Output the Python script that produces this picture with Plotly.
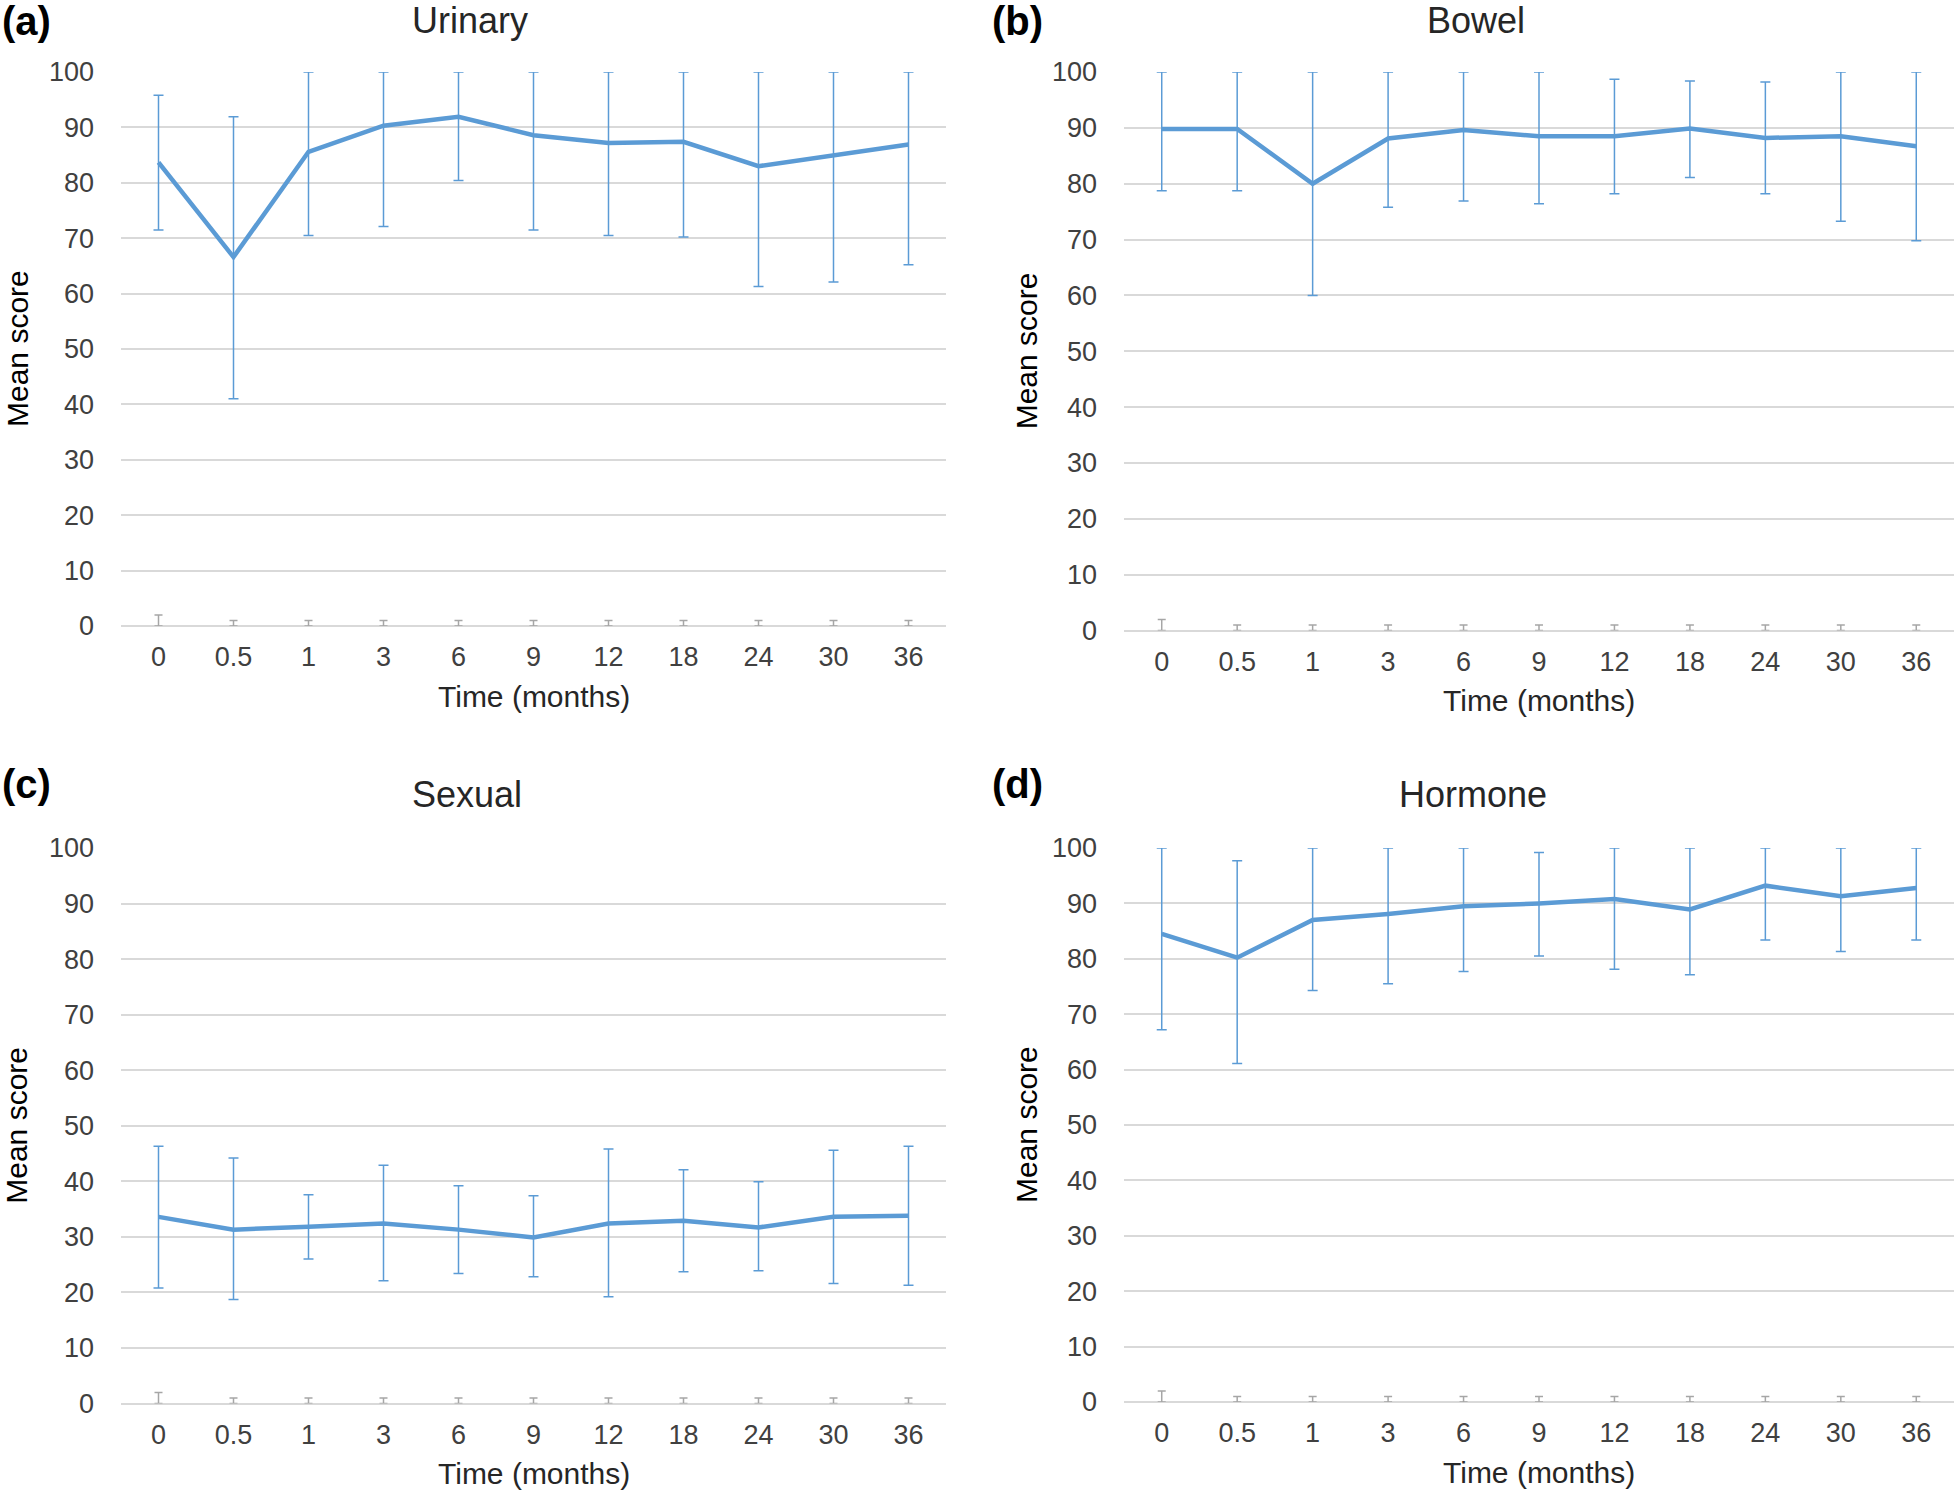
import plotly.graph_objects as go

W, H = 1958, 1492

months = ["0", "0.5", "1", "3", "6", "9", "12", "18", "24", "30", "36"]

urinary_mean = [83.7, 66.6, 85.6, 90.3, 91.9, 88.6, 87.2, 87.4, 83.0, 84.9, 86.9]
urinary_upper = [95.8, 91.9, 100, 100, 100, 100, 100, 100, 100, 100, 100]
urinary_lower = [71.5, 41.0, 70.5, 72.1, 80.4, 71.5, 70.5, 70.2, 61.3, 62.1, 65.2]

bowel_mean = [89.8, 89.8, 80.0, 88.1, 89.6, 88.5, 88.5, 89.9, 88.2, 88.5, 86.7]
bowel_upper = [100, 100, 100, 100, 100, 100, 98.7, 98.4, 98.2, 100, 100]
bowel_lower = [78.75, 78.75, 60.0, 75.8, 76.9, 76.4, 78.2, 81.1, 78.2, 73.3, 69.8]

sexual_mean = [33.6, 31.3, 31.8, 32.4, 31.3, 29.9, 32.4, 32.9, 31.7, 33.6, 33.8]
sexual_upper = [46.3, 44.2, 37.6, 42.9, 39.2, 37.4, 45.8, 42.1, 39.9, 45.6, 46.3]
sexual_lower = [20.8, 18.7, 26.0, 22.1, 23.4, 22.8, 19.2, 23.7, 23.9, 21.6, 21.3]

hormone_mean = [84.5, 80.2, 87.0, 88.1, 89.5, 90.0, 90.8, 88.9, 93.2, 91.3, 92.8]
hormone_upper = [100, 97.7, 100, 100, 100, 99.2, 100, 100, 100, 100, 100]
hormone_lower = [67.2, 61.1, 74.3, 75.5, 77.7, 80.5, 78.1, 77.1, 83.4, 81.3, 83.4]

# stray grey error-bar stubs at zero (second, hidden series)
zero_series = [0] * 11
zero_err = [2, 1, 1, 1, 1, 1, 1, 1, 1, 1, 1]

y_ticks = [0, 10, 20, 30, 40, 50, 60, 70, 80, 90, 100]

panels = [
    ("(a)", "Urinary", urinary_mean, urinary_upper, urinary_lower),
    ("(b)", "Bowel", bowel_mean, bowel_upper, bowel_lower),
    ("(c)", "Sexual", sexual_mean, sexual_upper, sexual_lower),
    ("(d)", "Hormone", hormone_mean, hormone_upper, hormone_lower),
]

# layout in pixels: (x0, x1, y_top(100), y_bottom(0))
boxes = [
    (121, 946, 72, 626),
    (1124, 1954, 72, 630.6),
    (121, 946, 848, 1403.5),
    (1124, 1954, 848, 1402),
]
title_pos = [(470, 21), (1476, 21), (467, 794), (1473, 794)]
label_pos = [(0, 21), (990, 21), (0, 784), (990, 784)]

BLUE = "#5B9BD5"
GRID = "#D9D9D9"
FONT = "Liberation Sans, Arial, sans-serif"

fig = go.Figure()
annotations = []
layout_axes = {}

for i, (lab, ttl, mean, up, lo) in enumerate(panels):
    n = i + 1
    xa = "x" if n == 1 else f"x{n}"
    ya = "y" if n == 1 else f"y{n}"
    plus = [u - m for u, m in zip(up, mean)]
    minus = [m - l for m, l in zip(mean, lo)]
    fig.add_trace(go.Scatter(
        x=months, y=zero_series, mode="lines", line=dict(color="rgba(0,0,0,0)", width=0),
        error_y=dict(type="data", array=zero_err, arrayminus=[0] * 11, symmetric=False,
                     color="#A6A6A6", thickness=1.5, width=4),
        xaxis=xa, yaxis=ya, showlegend=False, cliponaxis=False, hoverinfo="skip"))
    fig.add_trace(go.Scatter(
        x=months, y=mean, mode="lines", line=dict(color=BLUE, width=4.5),
        error_y=dict(type="data", array=plus, arrayminus=minus, symmetric=False,
                     color=BLUE, thickness=1.5, width=5),
        xaxis=xa, yaxis=ya, showlegend=False, cliponaxis=False))

    x0, x1, yt, yb = boxes[i]
    xkey = "xaxis" if n == 1 else f"xaxis{n}"
    ykey = "yaxis" if n == 1 else f"yaxis{n}"
    layout_axes[xkey] = dict(
        domain=[x0 / W, x1 / W], anchor=ya, type="category",
        categoryorder="array", categoryarray=months, automargin=False,
        range=[-0.5, 10.5], showgrid=False, zeroline=False, showline=False,
        ticks="", tickfont=dict(family=FONT, size=27, color="#404040"),
        ticklabelstandoff=12, fixedrange=True)
    layout_axes[ykey] = dict(
        domain=[1 - yb / H, 1 - yt / H], anchor=xa, range=[0, 100], automargin=False,
        tickvals=y_ticks, showgrid=True, gridcolor=GRID, gridwidth=2,
        zeroline=True, zerolinecolor=GRID, zerolinewidth=2, showline=False,
        ticks="", tickfont=dict(family=FONT, size=27, color="#404040"),
        ticklabelstandoff=26, fixedrange=True)

    tx, ty = title_pos[i]
    annotations.append(dict(x=tx / W, y=1 - ty / H, xref="paper", yref="paper",
                            text=ttl, showarrow=False, xanchor="center", yanchor="middle",
                            font=dict(family=FONT, size=36, color="#262626")))
    lx, ly = label_pos[i]
    annotations.append(dict(x=lx / W, y=1 - ly / H, xref="paper", yref="paper",
                            text=f"<b>{lab}</b>", showarrow=False, xanchor="left", yanchor="middle",
                            font=dict(family=FONT, size=40, color="#000000")))
    # y axis title
    yc = (yt + yb) / 2
    ytx = 17 if x0 < 500 else 1026
    annotations.append(dict(x=ytx / W, y=1 - yc / H, xref="paper", yref="paper",
                            text="Mean score", textangle=-90, showarrow=False,
                            xanchor="center", yanchor="middle",
                            font=dict(family=FONT, size=30, color="#000000")))
    # x axis title
    annotations.append(dict(x=(x0 + x1) / 2 / W, y=1 - (yb + 70) / H, xref="paper", yref="paper",
                            text="Time (months)", showarrow=False, borderpad=0,
                            xanchor="center", yanchor="middle",
                            font=dict(family=FONT, size=30, color="#262626")))

fig.update_layout(
    width=W, height=H, margin=dict(l=0, r=0, t=0, b=0, autoexpand=False),
    paper_bgcolor="white", plot_bgcolor="white",
    showlegend=False, annotations=annotations, **layout_axes)

fig.write_html(
    "out.html",
    config={"displayModeBar": False},
    post_script="document.body.style.margin='0';document.body.style.overflow='hidden';",
)
